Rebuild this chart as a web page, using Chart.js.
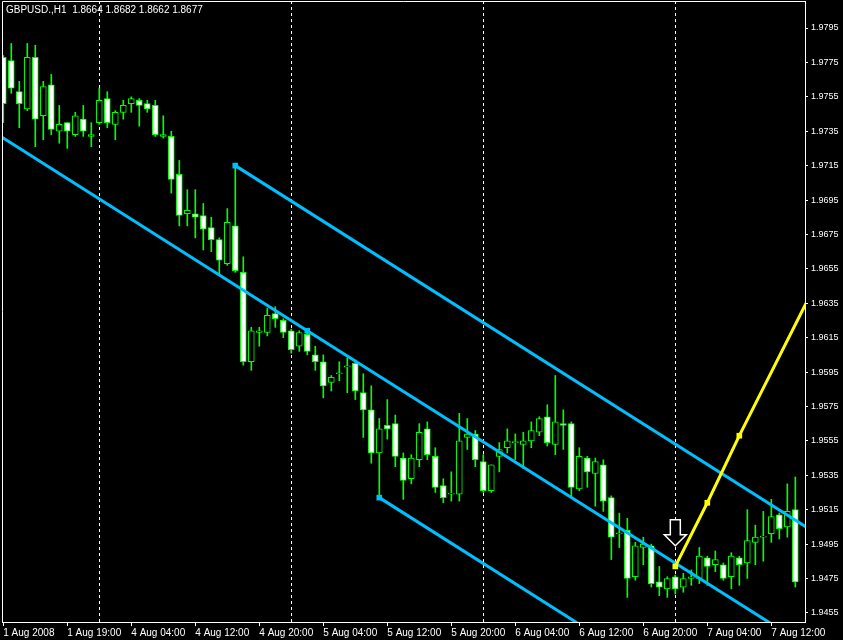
<!DOCTYPE html>
<html>
<head>
<meta charset="utf-8">
<script src="https://cdn.jsdelivr.net/npm/chart.js@4.4.1/dist/chart.umd.min.js"></script>
<style>
  html, body { margin: 0; padding: 0; background: #000; }
  #wrap { width: 843px; height: 640px; }
</style>
</head>
<body>
<div id="wrap"><canvas id="chart" width="843" height="640"></canvas></div>
<script>
// GBPUSD H1 candles, bar index 0..99
const opens = [1.9778,1.9776,1.9758,1.9748,1.9778,1.9744,1.9762,1.9735,1.9740,1.9733,
  1.9742,1.9732,1.9740,1.9754,1.9739,1.9746,1.9751,1.9753,1.9751,1.9750,
  1.9732,1.9732,1.9710,1.9687,1.9687,1.9686,1.9679,1.9672,1.9658,1.9680,
  1.9653,1.9601,1.9618,1.9618,1.9629,1.9625,1.9619,1.9610,1.9617,1.9605,
  1.9601,1.9589,1.9594,1.9598,1.9600,1.9583,1.9573,1.9548,1.9564,1.9565,
  1.9545,1.9533,1.9544,1.9562,1.9546,1.9529,1.9524,1.9524,1.9557,1.9559,
  1.9543,1.9526,1.9546,1.9551,1.9554,1.9553,1.9555,1.9560,1.9569,1.9553,
  1.9565,1.9565,1.9527,1.9545,1.9536,1.9541,1.9522,1.9501,1.9503,1.9476,
  1.9493,1.9494,1.9473,1.9469,1.9476,1.9470,1.9475,1.9475,1.9487,1.9483,
  1.9483,1.9476,1.9487,1.9484,1.9496,1.9499,1.9501,1.9512,1.9505,1.9515];
const highs = [1.9779,1.9786,1.9764,1.9786,1.9785,1.9764,1.9768,1.9750,1.9740,1.9746,
  1.9750,1.9740,1.9760,1.9758,1.9747,1.9753,1.9755,1.9754,1.9753,1.9753,
  1.9744,1.9735,1.9718,1.9701,1.9701,1.9693,1.9685,1.9673,1.9690,1.9715,
  1.9662,1.9621,1.9621,1.9632,1.9633,1.9626,1.9620,1.9619,1.9619,1.9610,
  1.9605,1.9593,1.9601,1.9603,1.9602,1.9594,1.9587,1.9568,1.9579,1.9570,
  1.9548,1.9547,1.9565,1.9566,1.9551,1.9533,1.9537,1.9571,1.9568,1.9561,
  1.9547,1.9541,1.9554,1.9562,1.9559,1.9560,1.9566,1.9569,1.9576,1.9593,
  1.9573,1.9566,1.9551,1.9546,1.9545,1.9544,1.9523,1.9513,1.9510,1.9496,
  1.9499,1.9495,1.9482,1.9476,1.9477,1.9478,1.9480,1.9493,1.9488,1.9491,
  1.9484,1.9490,1.9488,1.9515,1.9506,1.9514,1.9521,1.9513,1.9530,1.9534];
const lows = [1.9740,1.9757,1.9737,1.9747,1.9726,1.9730,1.9733,1.9728,1.9725,1.9732,
  1.9732,1.9726,1.9739,1.9737,1.9730,1.9742,1.9746,1.9738,1.9746,1.9732,
  1.9731,1.9699,1.9680,1.9680,1.9673,1.9666,1.9665,1.9651,1.9657,1.9653,
  1.9599,1.9596,1.9610,1.9616,1.9621,1.9615,1.9606,1.9607,1.9605,1.9596,
  1.9580,1.9584,1.9590,1.9583,1.9579,1.9557,1.9542,1.9522,1.9556,1.9540,
  1.9521,1.9530,1.9540,1.9544,1.9525,1.9519,1.9520,1.9520,1.9550,1.9540,
  1.9525,1.9525,1.9537,1.9548,1.9544,1.9539,1.9551,1.9558,1.9552,1.9547,
  1.9550,1.9522,1.9526,1.9528,1.9517,1.9514,1.9486,1.9493,1.9464,1.9474,
  1.9483,1.9470,1.9465,1.9464,1.9466,1.9467,1.9471,1.9472,1.9471,1.9479,
  1.9474,1.9469,1.9471,1.9475,1.9483,1.9485,1.9496,1.9498,1.9499,1.9470];
const closes = [1.9751,1.9760,1.9751,1.9778,1.9742,1.9761,1.9736,1.9739,1.9735,1.9744,
  1.9735,1.9733,1.9753,1.9740,1.9746,1.9750,1.9754,1.9750,1.9748,1.9733,
  1.9733,1.9707,1.9686,1.9689,1.9685,1.9678,1.9672,1.9660,1.9682,1.9654,
  1.9601,1.9619,1.9619,1.9628,1.9626,1.9618,1.9608,1.9618,1.9607,1.9601,
  1.9587,1.9592,1.9594,1.9598,1.9584,1.9573,1.9548,1.9562,1.9562,1.9546,
  1.9532,1.9545,1.9560,1.9547,1.9528,1.9522,1.9524,1.9555,1.9559,1.9544,
  1.9526,1.9541,1.9550,1.9555,1.9554,1.9555,1.9561,1.9568,1.9554,1.9566,
  1.9564,1.9528,1.9546,1.9537,1.9543,1.9520,1.9499,1.9501,1.9475,1.9494,
  1.9495,1.9472,1.9470,1.9475,1.9469,1.9475,1.9476,1.9488,1.9482,1.9486,
  1.9475,1.9488,1.9483,1.9497,1.9499,1.9499,1.9511,1.9504,1.9514,1.9473];

const tickBars = [0, 8, 16, 24, 32, 40, 48, 56, 64, 72, 80, 88, 96];
const tickLabels = ['1 Aug 2008', '1 Aug 19:00', '4 Aug 04:00', '4 Aug 12:00', '4 Aug 20:00',
  '5 Aug 04:00', '5 Aug 12:00', '5 Aug 20:00', '6 Aug 04:00', '6 Aug 12:00',
  '6 Aug 20:00', '7 Aug 04:00', '7 Aug 12:00'];
const priceTicks = [1.9455, 1.9475, 1.9495, 1.9515, 1.9535, 1.9555, 1.9575, 1.9595, 1.9615,
  1.9635, 1.9655, 1.9675, 1.9695, 1.9715, 1.9735, 1.9755, 1.9775, 1.9795];
const gridBars = [12, 36, 60, 84];

// channel and projection lines: [bar, price]
const upperLine = [[29, 1.9715], [101, 1.9503]];
const midLine = [[-1, 1.9734], [38, 1.9619], [101, 1.9434]];
const lowerLine = [[47, 1.9522], [101, 1.9363]];
const yellowLine = [[84, 1.9482], [88, 1.9519], [92, 1.9558], [101, 1.9641]];
const arrowMark = [84, 1.9494];
const header = 'GBPUSD.,H1  1.8664 1.8682 1.8662 1.8677';

const FONT = 'Liberation Sans';
const GREEN = '#00ff00';
const BLUE = '#00bfff';

const bodies = opens.map((o, i) => ({ x: i, y: [o, closes[i]] }));
const wicks = highs.map((h, i) => ({ x: i, y: [lows[i], h] }));
const bodyColors = opens.map((o, i) => closes[i] >= o ? '#000000' : '#ffffff');
const toPts = arr => arr.map(p => ({ x: p[0], y: p[1] }));

const noPad = s => { s.paddingTop = 0; s.paddingBottom = 0; s.paddingLeft = 0; s.paddingRight = 0; };

const extras = {
  id: 'extras',
  beforeDatasetsDraw(chart) {
    const { ctx, chartArea: a, scales: { x } } = chart;
    ctx.save();
    ctx.strokeStyle = '#ffffff';
    ctx.lineWidth = 1;
    ctx.setLineDash([3, 3]);
    gridBars.forEach(b => {
      const px = Math.round(x.getPixelForValue(b)) + 0.5;
      ctx.beginPath();
      ctx.moveTo(px, a.top);
      ctx.lineTo(px, a.bottom);
      ctx.stroke();
    });
    ctx.restore();
  },
  afterDraw(chart) {
    const { ctx, chartArea: a, scales: { x, y } } = chart;
    ctx.save();
    // frame
    ctx.strokeStyle = '#ffffff';
    ctx.lineWidth = 1;
    ctx.beginPath();
    ctx.moveTo(a.left + 0.5, a.bottom);
    ctx.lineTo(a.left + 0.5, a.top + 0.5);
    ctx.lineTo(a.right, a.top + 0.5);
    ctx.stroke();
    // header text
    ctx.fillStyle = '#ffffff';
    ctx.font = '10px ' + FONT;
    ctx.textBaseline = 'middle';
    ctx.fillText(header, 6, 10);
    // arrow
    const ax = x.getPixelForValue(arrowMark[0]);
    const tip = y.getPixelForValue(arrowMark[1]);
    ctx.beginPath();
    ctx.moveTo(ax - 5, tip - 26);
    ctx.lineTo(ax + 5, tip - 26);
    ctx.lineTo(ax + 5, tip - 11);
    ctx.lineTo(ax + 11, tip - 11);
    ctx.lineTo(ax, tip);
    ctx.lineTo(ax - 11, tip - 11);
    ctx.lineTo(ax - 5, tip - 11);
    ctx.closePath();
    ctx.fillStyle = '#000';
    ctx.fill();
    ctx.strokeStyle = '#fff';
    ctx.lineWidth = 1.5;
    ctx.stroke();
    ctx.restore();
  }
};

const lineDs = (data, color, radii, order) => ({
  type: 'line',
  data: toPts(data),
  borderColor: color,
  backgroundColor: color,
  borderWidth: 3,
  pointStyle: 'rect',
  pointRadius: radii,
  pointBorderWidth: 0,
  order: order
});

new Chart(document.getElementById('chart'), {
  type: 'bar',
  data: {
    datasets: [
      lineDs(yellowLine, '#ffff00', [4, 4, 4, 0], 0),
      lineDs(upperLine, BLUE, [4, 0], 1),
      lineDs(midLine, BLUE, [0, 4, 0], 1),
      lineDs(lowerLine, BLUE, [4, 0], 1),
      {
        data: bodies,
        backgroundColor: bodyColors,
        borderColor: GREEN,
        borderWidth: 1,
        borderSkipped: false,
        barThickness: 6,
        minBarLength: 1,
        grouped: false,
        order: 2
      },
      {
        data: wicks,
        backgroundColor: GREEN,
        borderWidth: 0,
        barThickness: 1,
        grouped: false,
        order: 3
      }
    ]
  },
  options: {
    responsive: false,
    animation: false,
    devicePixelRatio: 1,
    layout: { autoPadding: false, padding: { left: 2, top: 1, right: 0, bottom: 0 } },
    plugins: { legend: { display: false }, tooltip: { enabled: false } },
    scales: {
      x: {
        type: 'linear',
        offset: false,
        min: -0.16,
        max: 100.21,
        afterBuildTicks: s => { s.ticks = tickBars.map(v => ({ value: v })); },
        afterFit: s => { s.height = 18; noPad(s); },
        grid: { drawOnChartArea: false, offset: false, tickLength: 4, tickColor: '#ffffff' },
        border: { color: '#ffffff', width: 1 },
        ticks: {
          color: '#ffffff',
          font: { family: FONT, size: 10 },
          align: 'start',
          padding: 1,
          maxRotation: 0,
          autoSkip: false,
          callback: (v, i) => tickLabels[i]
        }
      },
      y: {
        position: 'right',
        min: 1.94497,
        max: 1.98107,
        afterBuildTicks: s => { s.ticks = priceTicks.map(v => ({ value: v })); },
        afterFit: s => { s.width = 38; noPad(s); },
        grid: { drawOnChartArea: false, tickLength: 3, tickColor: '#ffffff' },
        border: { color: '#ffffff', width: 1 },
        ticks: {
          color: '#ffffff',
          font: { family: FONT, size: 9 },
          padding: 3,
          callback: v => v.toFixed(4)
        }
      }
    }
  },
  plugins: [extras]
});
</script>
</body>
</html>
